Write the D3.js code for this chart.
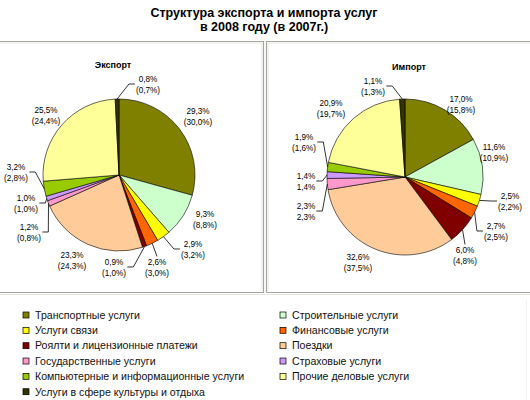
<!DOCTYPE html>
<html>
<head>
<meta charset="utf-8">
<script src="https://cdn.jsdelivr.net/npm/d3@7"></script>
<style>
  body { margin: 0; background: #fff; }
  svg { display: block; font-family: "Liberation Sans", Arial, sans-serif; }
</style>
</head>
<body>
<div id="chart"></div>
<script>
const categories = [
  'Транспортные услуги', 'Строительные услуги',
  'Услуги связи', 'Финансовые услуги',
  'Роялти и лицензионные платежи', 'Поездки',
  'Государственные услуги', 'Страховые услуги',
  'Компьютерные и информационные услуги', 'Прочие деловые услуги',
  'Услуги в сфере культуры и отдыха'
]
// 2008 shares and 2007 shares (in brackets), %
const export2008 = [29.3, 9.3, 2.9, 2.6, 0.9, 23.3, 1.2, 1.0, 3.2, 25.5, 0.8]
const export2007 = [30.0, 8.8, 3.2, 3.0, 1.0, 24.3, 0.8, 1.0, 2.8, 24.4, 0.7]
const import2008 = [17.0, 11.6, 2.5, 2.7, 6.0, 32.6, 2.3, 1.4, 1.9, 20.9, 1.1]
const import2007 = [15.8, 10.9, 2.2, 2.5, 4.8, 37.5, 2.3, 1.4, 1.6, 19.7, 1.3]

const colors = ['#808000', '#ccffcc', '#ffff00', '#ff6600', '#800000', '#ffcc99',
  '#ff99cc', '#cc99ff', '#99cc00', '#ffff99', '#333300']

// label placement (offset from pie centre), leader: 0 none, 1 side, 2 top
const exportLabelAt = [[79,-59],[86,44],[74,74],[38,92],[-5,92],[-47,85],[-90,57],[-93,28],[-103,-3],[-73,-60],[29,-91]]
const exportLeader = [0,0,1,2,1,0,1,1,1,0,1]
const importLabelAt = [[56,-73],[89,-25],[105,24],[91,54],[60,78],[-47,85],[-99,34],[-99,4],[-101,-35],[-74,-69],[-32,-91]]
const importLeader = [0,0,1,1,2,0,1,1,1,0,1]
const importPlain = [6, 7] // second line printed without brackets

const width = 530
const height = 400
const fmt = v => v.toFixed(1).replace('.', ',') + '%'

const svg = d3.select('#chart').append('svg').attr('width', width).attr('height', height)

svg.append('text').attr('x', 264).attr('y', 17).attr('text-anchor', 'middle')
  .attr('font-size', 12.5).attr('font-weight', 'bold').text('Структура экспорта и импорта услуг')
svg.append('text').attr('x', 264).attr('y', 31).attr('text-anchor', 'middle')
  .attr('font-size', 12.5).attr('font-weight', 'bold').text('в 2008 году (в 2007г.)')

// panel frames
const frame = svg.append('g').attr('fill', 'none')
frame.append('path').attr('stroke', '#a5a5a0').attr('stroke-width', 1.2)
  .attr('d', 'M0,41.5H263.5V292.5H0M266.5,292.5V41.5H530M266.5,292.5H530')
frame.append('path').attr('stroke', '#e8e8e0').attr('stroke-width', 1)
  .attr('d', 'M0,43H262V291M268,291V43H530M0,294.5H530')
frame.append('path').attr('stroke', '#f2f2ee').attr('d', 'M526.5,300V400')

function drawPie(cfg) {
  const g = svg.append('g').attr('transform', `translate(${cfg.cx},${cfg.cy})`)
  const arc = d3.arc().innerRadius(0).outerRadius(cfg.r)
  const arcs = d3.pie().sort(null).value(d => d)(cfg.now)

  g.append('text').attr('x', cfg.titleDx).attr('y', -107).attr('text-anchor', 'middle')
    .attr('font-size', 9).attr('font-weight', 'bold').text(cfg.title)

  g.selectAll('path.slice').data(arcs).join('path')
    .attr('class', 'slice')
    .attr('d', arc)
    .attr('fill', (d, i) => colors[i])
    .attr('stroke', '#000')
    .attr('stroke-width', 0.6)

  const labels = g.selectAll('g.lab').data(arcs).join('g')
    .attr('class', 'lab')
    .attr('transform', (d, i) => `translate(${cfg.labelAt[i][0]},${cfg.labelAt[i][1]})`)
    .attr('font-size', 8.2).attr('fill', '#000').attr('text-anchor', 'middle')
  labels.append('text').attr('y', -2.5).text((d, i) => fmt(cfg.now[i]))
  labels.append('text').attr('y', 8.5)
    .text((d, i) => cfg.plain.includes(i) ? fmt(cfg.prev[i]) : '(' + fmt(cfg.prev[i]) + ')')

  labels.each(function (d, i) {
    const type = cfg.leader[i]
    if (!type) return
    const b = this.getBBox()
    const [lx, ly] = cfg.labelAt[i]
    const a = (d.startAngle + d.endAngle) / 2
    const s = [cfg.r * Math.sin(a), -cfg.r * Math.cos(a)]
    let pts
    if (type === 2) {
      pts = [s, [lx, ly + b.y - 1]]
    } else {
      const right = lx > s[0]
      const ex = right ? lx + b.x - 1 : lx + b.x + b.width + 1
      const elbow = Math.min(Math.abs(s[0] - ex), 6) * (right ? -1 : 1)
      pts = [s, [ex + elbow, ly], [ex, ly]]
    }
    g.append('path').attr('d', d3.line()(pts))
      .attr('fill', 'none').attr('stroke', '#000').attr('stroke-width', 0.8)
  })
}

drawPie({ cx: 119, cy: 175, r: 76, title: 'Экспорт', titleDx: -6,
  now: export2008, prev: export2007, labelAt: exportLabelAt, leader: exportLeader, plain: [] })
drawPie({ cx: 405, cy: 177, r: 78, title: 'Импорт', titleDx: 4,
  now: import2008, prev: import2007, labelAt: importLabelAt, leader: importLeader, plain: importPlain })

// legend
const col = d3.scaleOrdinal().domain([0, 1]).range([23, 280])
const row = d3.scaleLinear().domain([0, 5]).range([315, 391.7])
const legend = svg.append('g').selectAll('g').data(categories).join('g')
  .attr('transform', (d, i) => `translate(${col(i % 2)},${row(Math.floor(i / 2))})`)
legend.append('rect').attr('x', 0).attr('y', -3).attr('width', 6).attr('height', 6)
  .attr('fill', (d, i) => colors[i]).attr('stroke', '#000').attr('stroke-width', 0.7)
legend.append('text').attr('x', 12).attr('y', 3.8).attr('font-size', 10.6).attr('fill', '#111').text(d => d)
</script>
</body>
</html>
